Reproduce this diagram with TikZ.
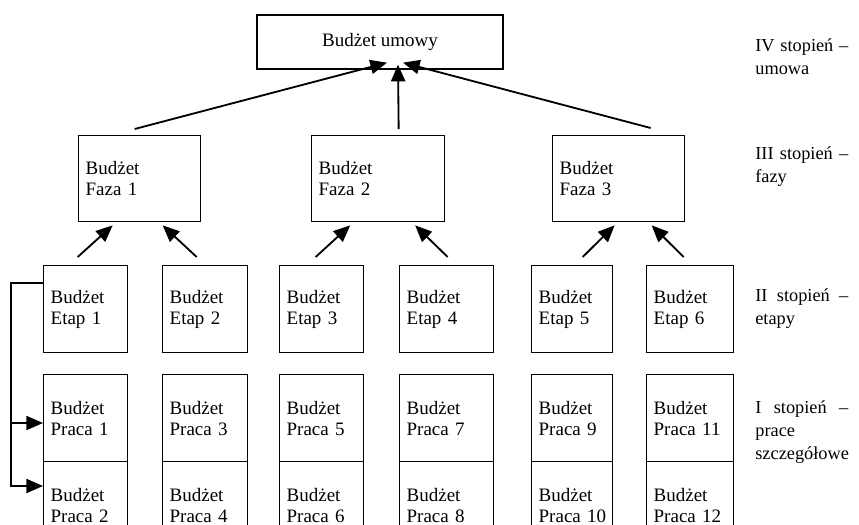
\documentclass[tikz,border=0pt]{standalone}
\usepackage{fontspec}
\setmainfont{Liberation Serif}
\usetikzlibrary{arrows.meta,calc}
\begin{document}
\begin{tikzpicture}[x=0.6pt,y=-0.6pt,
  bx/.style={draw, line width=0.8pt, rectangle, anchor=north west, inner xsep=4.2pt, inner ysep=0pt,
    align=left, font=\fontsize{11.4}{12.8}\selectfont, minimum height=52.2pt},
  tb/.style={draw, line width=0.8pt, rectangle, inner sep=0pt, minimum width=147.6pt, minimum height=32.4pt,
    font=\fontsize{11.4}{12.8}\selectfont},
  lab/.style={anchor=west, inner sep=0pt, text width=55.8pt, align=left, font=\fontsize{11}{13.8}\selectfont},
  arr/.style={line width=1.1pt, -{Triangle[length=10pt,width=8.5pt]}},
  ln/.style={line width=1.1pt}]
\useasboundingbox (0,0) rectangle (859,524);
\clip (0,0) rectangle (859,524);

% top
\node[tb] (t) at (380,42) {Budżet umowy};

% phases
\node[bx, text width=64.8pt, minimum height=51.6pt] (f1) at (78,135) {Budżet\\Faza~1};
\node[bx, text width=71.4pt, minimum height=51.6pt] (f2) at (311,135) {Budżet\\Faza~2};
\node[bx, text width=70.8pt, minimum height=51.6pt] (f3) at (552,135) {Budżet\\Faza~3};

% stages
\node[bx, text width=42.0pt] (e1) at (43,265) {Budżet\\Etap~1};
\node[bx, text width=42.6pt] (e2) at (162,265) {Budżet\\Etap~2};
\node[bx, text width=42.0pt] (e3) at (279,265) {Budżet\\Etap~3};
\node[bx, text width=48.0pt] (e4) at (399,265) {Budżet\\Etap~4};
\node[bx, text width=40.2pt] (e5) at (531,265) {Budżet\\Etap~5};
\node[bx, text width=43.8pt] (e6) at (646,265) {Budżet\\Etap~6};

% works
\node[bx, text width=42.0pt] (p1) at (43,374) {Budżet\\Praca~1};
\node[bx, text width=42.0pt] (p2) at (43,461) {Budżet\\Praca~2};
\node[bx, text width=42.6pt] (p3) at (162,374) {Budżet\\Praca~3};
\node[bx, text width=42.6pt] (p4) at (162,461) {Budżet\\Praca~4};
\node[bx, text width=42.0pt] (p5) at (279,374) {Budżet\\Praca~5};
\node[bx, text width=42.0pt] (p6) at (279,461) {Budżet\\Praca~6};
\node[bx, text width=48.0pt] (p7) at (399,374) {Budżet\\Praca~7};
\node[bx, text width=48.0pt] (p8) at (399,461) {Budżet\\Praca~8};
\node[bx, text width=40.2pt] (p9) at (531,374) {Budżet\\Praca~9};
\node[bx, text width=40.2pt] (p10) at (531,461) {Budżet\\Praca~10};
\node[bx, text width=43.8pt] (p11) at (646,374) {Budżet\\Praca~11};
\node[bx, text width=43.8pt] (p12) at (646,461) {Budżet\\Praca~12};

% level labels
\node[lab] (l4) at (755,56.5) {\makebox[55.8pt][s]{IV\hfill stopień\hfill –}\\umowa};
\node[lab] (l3) at (755,166.5) {\makebox[55.8pt][s]{III\hfill stopień\hfill –}\\fazy};
\node[lab] (l2) at (755,308.5) {\makebox[55.8pt][s]{II\hfill stopień\hfill –}\\etapy};
\node[lab] (l1) at (755,432) {\makebox[55.8pt][s]{I\hfill stopień\hfill –}\\prace\\szczegółowe};

% phases -> contract
\draw[arr] ($(f1.north)+(-5,-6)$) -- ($(t.south)+(7,-7)$);
\draw[arr] ($(f2.north)+(20.5,-6)$) -- ($(t.south)+(18,-5)$);
\draw[arr] ($(f3.north)+(32,-7)$) -- ($(t.south)+(23,-7)$);

% stages -> phases
\draw[arr] ($(e1.north)+(-8,-8)$) -- ($(f1.south)+(-27,3)$);
\draw[arr] ($(e2.north)+(-8.5,-8)$) -- ($(f1.south)+(23,3)$);
\draw[arr] ($(e3.north)+(-6,-8)$) -- ($(f2.south)+(-28,3)$);
\draw[arr] ($(e4.north)+(1,-8)$) -- ($(f2.south)+(37,3)$);
\draw[arr] ($(e5.north)+(10.5,-8)$) -- ($(f3.south)+(-4,3)$);
\draw[arr] ($(e6.north)+(-6.5,-8)$) -- ($(f3.south)+(33,3)$);

% bracket from Etap 1 to Praca 1 and 2
\coordinate (bx) at (11,283);
\coordinate (a1) at ($(p1.north west)+(0,49)$);
\coordinate (a2) at ($(p2.north west)+(0,25)$);
\draw[arr, line width=0.9pt] ($(e1.north west)+(0,18)$) -- (bx) -- (bx |- a2) -- (a2);
\draw[arr, line width=0.9pt] (bx |- a1) -- (a1);
\end{tikzpicture}
\end{document}
